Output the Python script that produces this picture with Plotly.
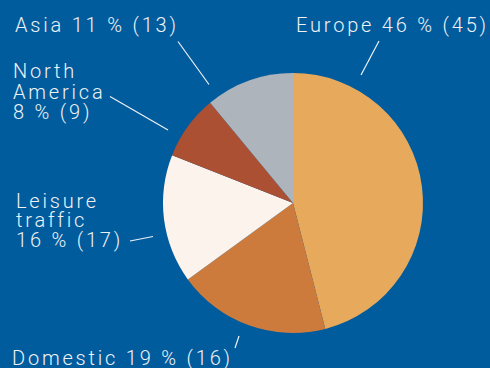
import plotly.graph_objects as go

# Share of revenue by traffic area, % (previous year in brackets)
categories = ["Europe", "Domestic", "Leisure traffic", "North America", "Asia"]
share_pct = [46, 19, 16, 8, 11]
prev_pct = [45, 16, 17, 9, 13]
colors = ["#e7a95b", "#cd7b3c", "#fcf4ec", "#ab5032", "#adb4bc"]

W, H = 490, 368
BG = "#015c9d"
TXT = "#eef2f6"
FONT = dict(family="Roboto", size=20, color=TXT, weight=300)

# label layout: left edge, line breaks and vertical line centres (pixels)
label_layout = {
    "Europe": dict(x=295, lines=["{n} {s} % ({p})"], ys=[25.0]),
    "Domestic": dict(x=11, lines=["{n} {s} % ({p})"], ys=[357.6]),
    "Leisure traffic": dict(x=14.5, lines=["Leisure", "traffic", "{s} % ({p})"],
                            ys=[201.0, 220.4, 240.4]),
    "North America": dict(x=11.5, lines=["North", "America", "{s} % ({p})"],
                          ys=[70.8, 92.0, 112.0]),
    "Asia": dict(x=13.5, lines=["{n} {s} % ({p})"], ys=[25.0]),
}
# leader lines (pixels): start, end
leaders = {
    "Europe": (379, 41, 361, 75),
    "Domestic": (235, 348, 239, 336),
    "Leisure traffic": (130, 241, 153, 236.5),
    "North America": (110, 96.5, 168, 130),
    "Asia": (178, 41.5, 209, 84.5),
}


def px(x):
    return x / W


def py(y):
    return 1 - y / H


fig = go.Figure(
    go.Pie(
        labels=categories,
        values=share_pct,
        marker=dict(colors=colors, line=dict(width=0)),
        sort=False,
        direction="clockwise",
        rotation=0,
        textinfo="none",
        hoverinfo="label+percent",
        showlegend=False,
        domain=dict(x=[px(163), px(423)], y=[py(333), py(73)]),
    )
)

annotations = []
shapes = []
for name, s, p in zip(categories, share_pct, prev_pct):
    spec = label_layout[name]
    for line, yc in zip(spec["lines"], spec["ys"]):
        annotations.append(dict(
            text=line.format(n=name, s=s, p=p),
            x=px(spec["x"]), y=py(yc), xref="paper", yref="paper",
            xanchor="left", yanchor="middle", showarrow=False,
            font=FONT, align="left", borderpad=0,
        ))
    x0, y0, x1, y1 = leaders[name]
    shapes.append(dict(
        type="line", xref="paper", yref="paper",
        x0=px(x0), y0=py(y0), x1=px(x1), y1=py(y1),
        line=dict(color=TXT, width=1.2),
    ))

fig.update_layout(
    width=W, height=H,
    margin=dict(l=0, r=0, t=0, b=0),
    paper_bgcolor=BG, plot_bgcolor=BG,
    annotations=annotations, shapes=shapes,
)

# wide tracking for the label lettering
post = (
    "var st=document.createElement('style');"
    "st.textContent='.annotation-text{letter-spacing:2.8px}';"
    "document.head.appendChild(st);"
)
fig.write_html("out.html", config={"displayModeBar": False}, post_script=post)
